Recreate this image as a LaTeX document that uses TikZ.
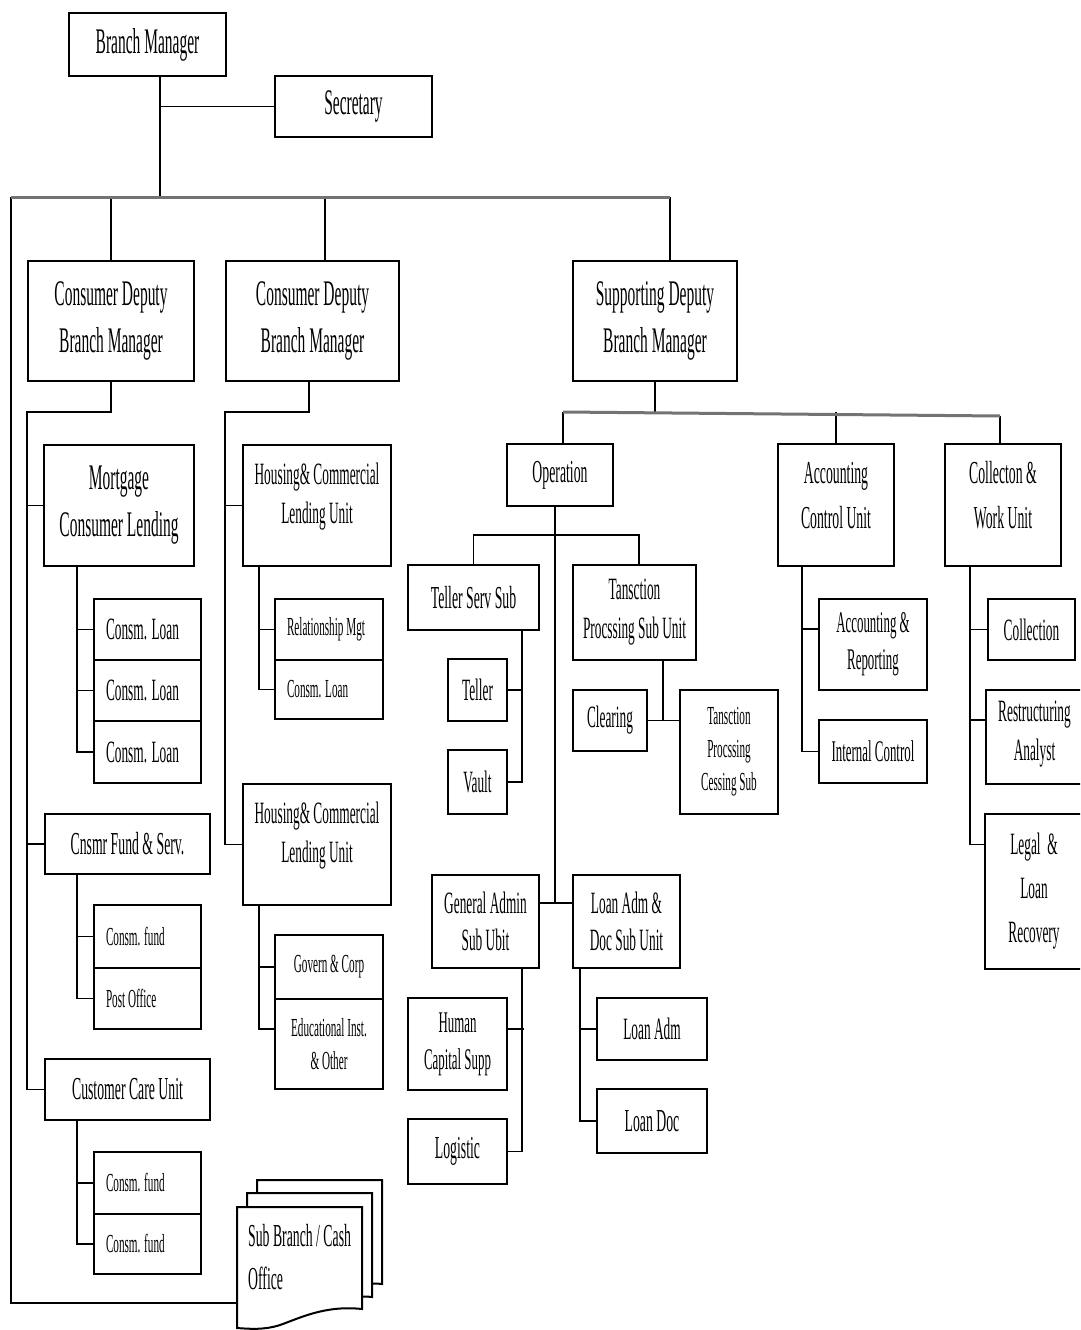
\documentclass[tikz,border=0pt]{standalone}
\usepackage{fontspec}
\newfontfamily\cf{Liberation Serif}[FakeStretch=0.43]
\newcommand\ob[7][]{\node[box,anchor=north west,minimum width={(#5-#3)*1pt},minimum height={(#6-#4)*1pt},#1] (#2) at (#3,#4) {#7};}
\newcommand\lft[1]{\makebox[83pt][l]{#1}}
\begin{document}
\begin{tikzpicture}[x=1pt,y=-1pt,
  box/.style={draw,line width=2pt,fill=white,inner sep=0pt,align=center},
  ln/.style={draw,line width=1.6pt},
  bus/.style={draw,line width=3pt,black!55},
  fb/.style={font=\cf\fontsize{36}{47}\selectfont},
  fm/.style={font=\cf\fontsize{31}{39}\selectfont},
  fmb/.style={font=\cf\fontsize{32}{45}\selectfont},
  fs/.style={font=\cf\fontsize{26}{33}\selectfont}]
\useasboundingbox (0,0) rectangle (1080,1330);
\clip (0,0) rectangle (1080,1330);
\fill[white] (0,0) rectangle (1080,1330);

% ---------- boxes ----------
\ob[fb]{bm}{68}{12}{225}{75}{Branch Manager}
\ob[fb]{sec}{274}{75}{431}{136}{Secretary}
\ob[fb]{cd1}{27}{260}{193}{380}{Consumer Deputy\\Branch Manager}
\ob[fb]{cd2}{225}{260}{398}{380}{Consumer Deputy\\Branch Manager}
\ob[fb]{sd}{572}{260}{736}{380}{Supporting Deputy\\Branch Manager}

\ob[fb]{mcl}{43}{444}{193}{565}{Mortgage\\Consumer Lending}
\ob[fm]{cl1}{93}{598}{200}{659}{\lft{Consm. Loan}}
\ob[fm]{cl2}{93}{659}{200}{720}{\lft{Consm. Loan}}
\ob[fm]{cl3}{93}{720}{200}{782}{\lft{Consm. Loan}}
\ob[fmb]{cfs}{44}{813}{209}{873}{Cnsmr Fund \& Serv.}
\ob[fs]{cf1}{93}{904}{200}{967}{\lft{Consm. fund}}
\ob[fs]{po}{93}{967}{200}{1028}{\lft{Post Office}}
\ob[fmb]{ccu}{44}{1058}{209}{1119}{Customer Care Unit}
\ob[fs]{cf2}{93}{1151}{200}{1213}{\lft{Consm. fund}}
\ob[fs]{cf3}{93}{1213}{200}{1273}{\lft{Consm. fund}}

\ob[fm,text depth=24pt]{hc1}{242}{444}{390}{565}{Housing\& Commercial\\Lending Unit}
\ob[fs]{rm}{274}{598}{382}{659}{\makebox[84pt][l]{Relationship Mgt}}
\ob[fs]{cl4}{274}{659}{382}{718}{\makebox[84pt][l]{Consm. Loan}}
\ob[fm,text depth=24pt]{hc2}{242}{783}{390}{904}{Housing\& Commercial\\Lending Unit}
\ob[fs]{gc}{274}{934}{382}{998}{Govern \& Corp}
\ob[fs]{edu}{274}{998}{382}{1088}{Educational Inst.\\\& Other}

\ob[fmb]{op}{506}{443}{612}{505}{Operation}
\ob[fmb]{tss}{407}{564}{538}{629}{Teller Serv Sub}
\ob[fm]{teller}{447}{658}{506}{720}{Teller}
\ob[fm]{vault}{447}{749}{506}{813}{Vault}
\ob[fm]{tps}{572}{564}{695}{659}{Tansction\\Procssing Sub Unit}
\ob[fm]{clr}{572}{689}{646}{750}{Clearing}
\ob[fs]{tpc}{679}{689}{777}{813}{Tansction\\Procssing\\Cessing Sub}
\ob[fm,font=\cf\fontsize{31}{37}\selectfont]{ga}{431}{874}{538}{967}{General Admin\\Sub Ubit}
\ob[fm,font=\cf\fontsize{31}{37}\selectfont]{la}{572}{874}{679}{967}{Loan Adm \&\\Doc Sub Unit}
\ob[fm,font=\cf\fontsize{30}{37}\selectfont]{hcs}{407}{997}{506}{1089}{Human\\Capital Supp}
\ob[fmb]{log}{407}{1118}{506}{1183}{Logistic}
\ob[fm]{lad}{596}{997}{706}{1059}{Loan Adm}
\ob[fmb]{ldoc}{596}{1088}{706}{1152}{Loan Doc}

\ob[fmb,text depth=20pt]{acu}{777}{443}{893}{565}{Accounting\\Control Unit}
\ob[fm,font=\cf\fontsize{30}{37}\selectfont]{ar}{818}{598}{926}{689}{Accounting \&\\Reporting}
\ob[fm,font=\cf\fontsize{30}{37}\selectfont]{ic}{818}{719}{926}{782}{Internal Control}
\ob[fmb,text depth=20pt]{cwu}{944}{443}{1060}{565}{Collecton \&\\Work Unit}
\ob[fm]{coll}{987}{598}{1074}{659}{Collection}
\ob[fm,text depth=12pt]{ra}{985}{689}{1082}{783}{Restructuring\\Analyst}
\ob[fm,font=\cf\fontsize{31}{44}\selectfont]{legal}{984}{813}{1082}{968}{Legal \ \&\\Loan\\Recovery}

% ---------- connectors ----------
\coordinate (j1) at (160,197);
\coordinate (busL) at (11,197);
\coordinate (busR) at (670,197);
\path[ln] (bm.south -| j1) -- (j1);
\path[ln] (sec.west -| j1) -- (sec.west);
\path[ln] (cd1.north) -- (cd1.north |- busL);
\path[ln] ([xshift=12.5pt]cd2.north) -- ++(0,-63);
\path[ln] (busR) -- (busR |- sd.north);
\coordinate (subw) at (237,1303);
\path[ln] (busL) |- (subw);
\path[bus] (busL) -- (busR);

\coordinate (v1) at (27,412);
\path[ln] (cd1.south) |- (v1) |- (ccu.west);
\path[ln] (v1 |- mcl.west) -- (mcl.west);
\path[ln] (v1 |- cfs.west) -- (cfs.west);
\coordinate (m1) at (77,565);
\path[ln] (m1) |- (cl3.west);
\path[ln] (m1 |- cl1.west) -- (cl1.west);
\path[ln] (m1 |- cl2.west) -- (cl2.west);
\coordinate (m2) at (77,873);
\path[ln] (m2) |- (po.west);
\path[ln] (m2 |- cf1.west) -- (cf1.west);
\coordinate (m3) at (77,1119);
\path[ln] (m3) |- (cf3.west);
\path[ln] (m3 |- cf2.west) -- (cf2.west);

\coordinate (v2) at (225,412);
\path[ln] ([xshift=-3.5pt]cd2.south) |- (v2) |- (hc2.west);
\path[ln] (v2 |- hc1.west) -- (hc1.west);
\coordinate (h1) at (259,565);
\path[ln] (h1) |- (cl4.west);
\path[ln] (h1 |- rm.west) -- (rm.west);
\coordinate (h2) at (259,904);
\path[ln] (h2) |- ([yshift=15pt]edu.west);
\path[ln] (h2 |- gc.west) -- (gc.west);

\coordinate (b2L) at (563,412);
\coordinate (b2R) at (1000,416);
\path[ln] (sd.south) -- (sd.south |- b2L);
\path[ln] (b2L) -- (b2L |- op.north);
\path[ln] (acu.north) -- (acu.north |- b2L);
\path[ln] (b2R) -- (b2R |- cwu.north);
\path[bus] (b2L) -- (b2R);

\coordinate (o1) at (555,505);
\coordinate (o2) at (555,903);
\coordinate (o3) at (555,535);
\path[ln] (o1) -- (o2);
\path[ln] (o2 -| ga.east) -- (o2 -| la.west);
\path[ln] (tss.north) |- (o3) -| ([xshift=4.5pt]tps.north);
\coordinate (t1) at (522,629);
\path[ln] (t1) |- (vault.east);
\path[ln] (teller.east) -- (teller.east -| t1);
\coordinate (p1) at (663,659);
\path[ln] (p1) -- (p1 |- clr.east);
\path[ln] (clr.east) -- (clr.east -| tpc.west);
\coordinate (g1) at (522,967);
\path[ln] (g1) |- (log.east);
\path[ln] ([yshift=15pt]hcs.east) -- ++(16,0);
\coordinate (l1) at (580,967);
\path[ln] (l1) |- (ldoc.west);
\path[ln] (l1 |- lad.west) -- (lad.west);
\coordinate (a1) at (802,565);
\path[ln] (a1) |- (ic.west);
\path[ln] ([yshift=15.5pt]ar.west) -- ++(-16,0);
\coordinate (c1) at (970,565);
\path[ln] (c1) |- ([yshift=47pt]legal.west);
\path[ln] (c1 |- coll.west) -- (coll.west);
\path[ln] ([yshift=17pt]ra.west) -- ++(-15,0);

% ---------- sub branch (stacked documents) ----------
\draw[line width=2pt,fill=white] (257,1180) -- (382,1180) -- (382,1284)
  .. controls (345,1280) and (300,1300) .. (257,1300) -- cycle;
\draw[line width=2pt,fill=white] (247,1193) -- (372,1193) -- (372,1297)
  .. controls (335,1293) and (290,1313) .. (247,1313) -- cycle;
\draw[line width=2pt,fill=white] (237,1207) -- (362,1207) -- (362,1309)
  .. controls (325,1305) and (300,1318) .. (280,1325)
  .. controls (265,1330) and (250,1329) .. (237,1328) -- cycle;
\node[anchor=north west,align=left,inner sep=0pt,font=\cf\fontsize{32}{43}\selectfont] (sub) at (248,1224) {Sub Branch / Cash\\Office};
\end{tikzpicture}
\end{document}
